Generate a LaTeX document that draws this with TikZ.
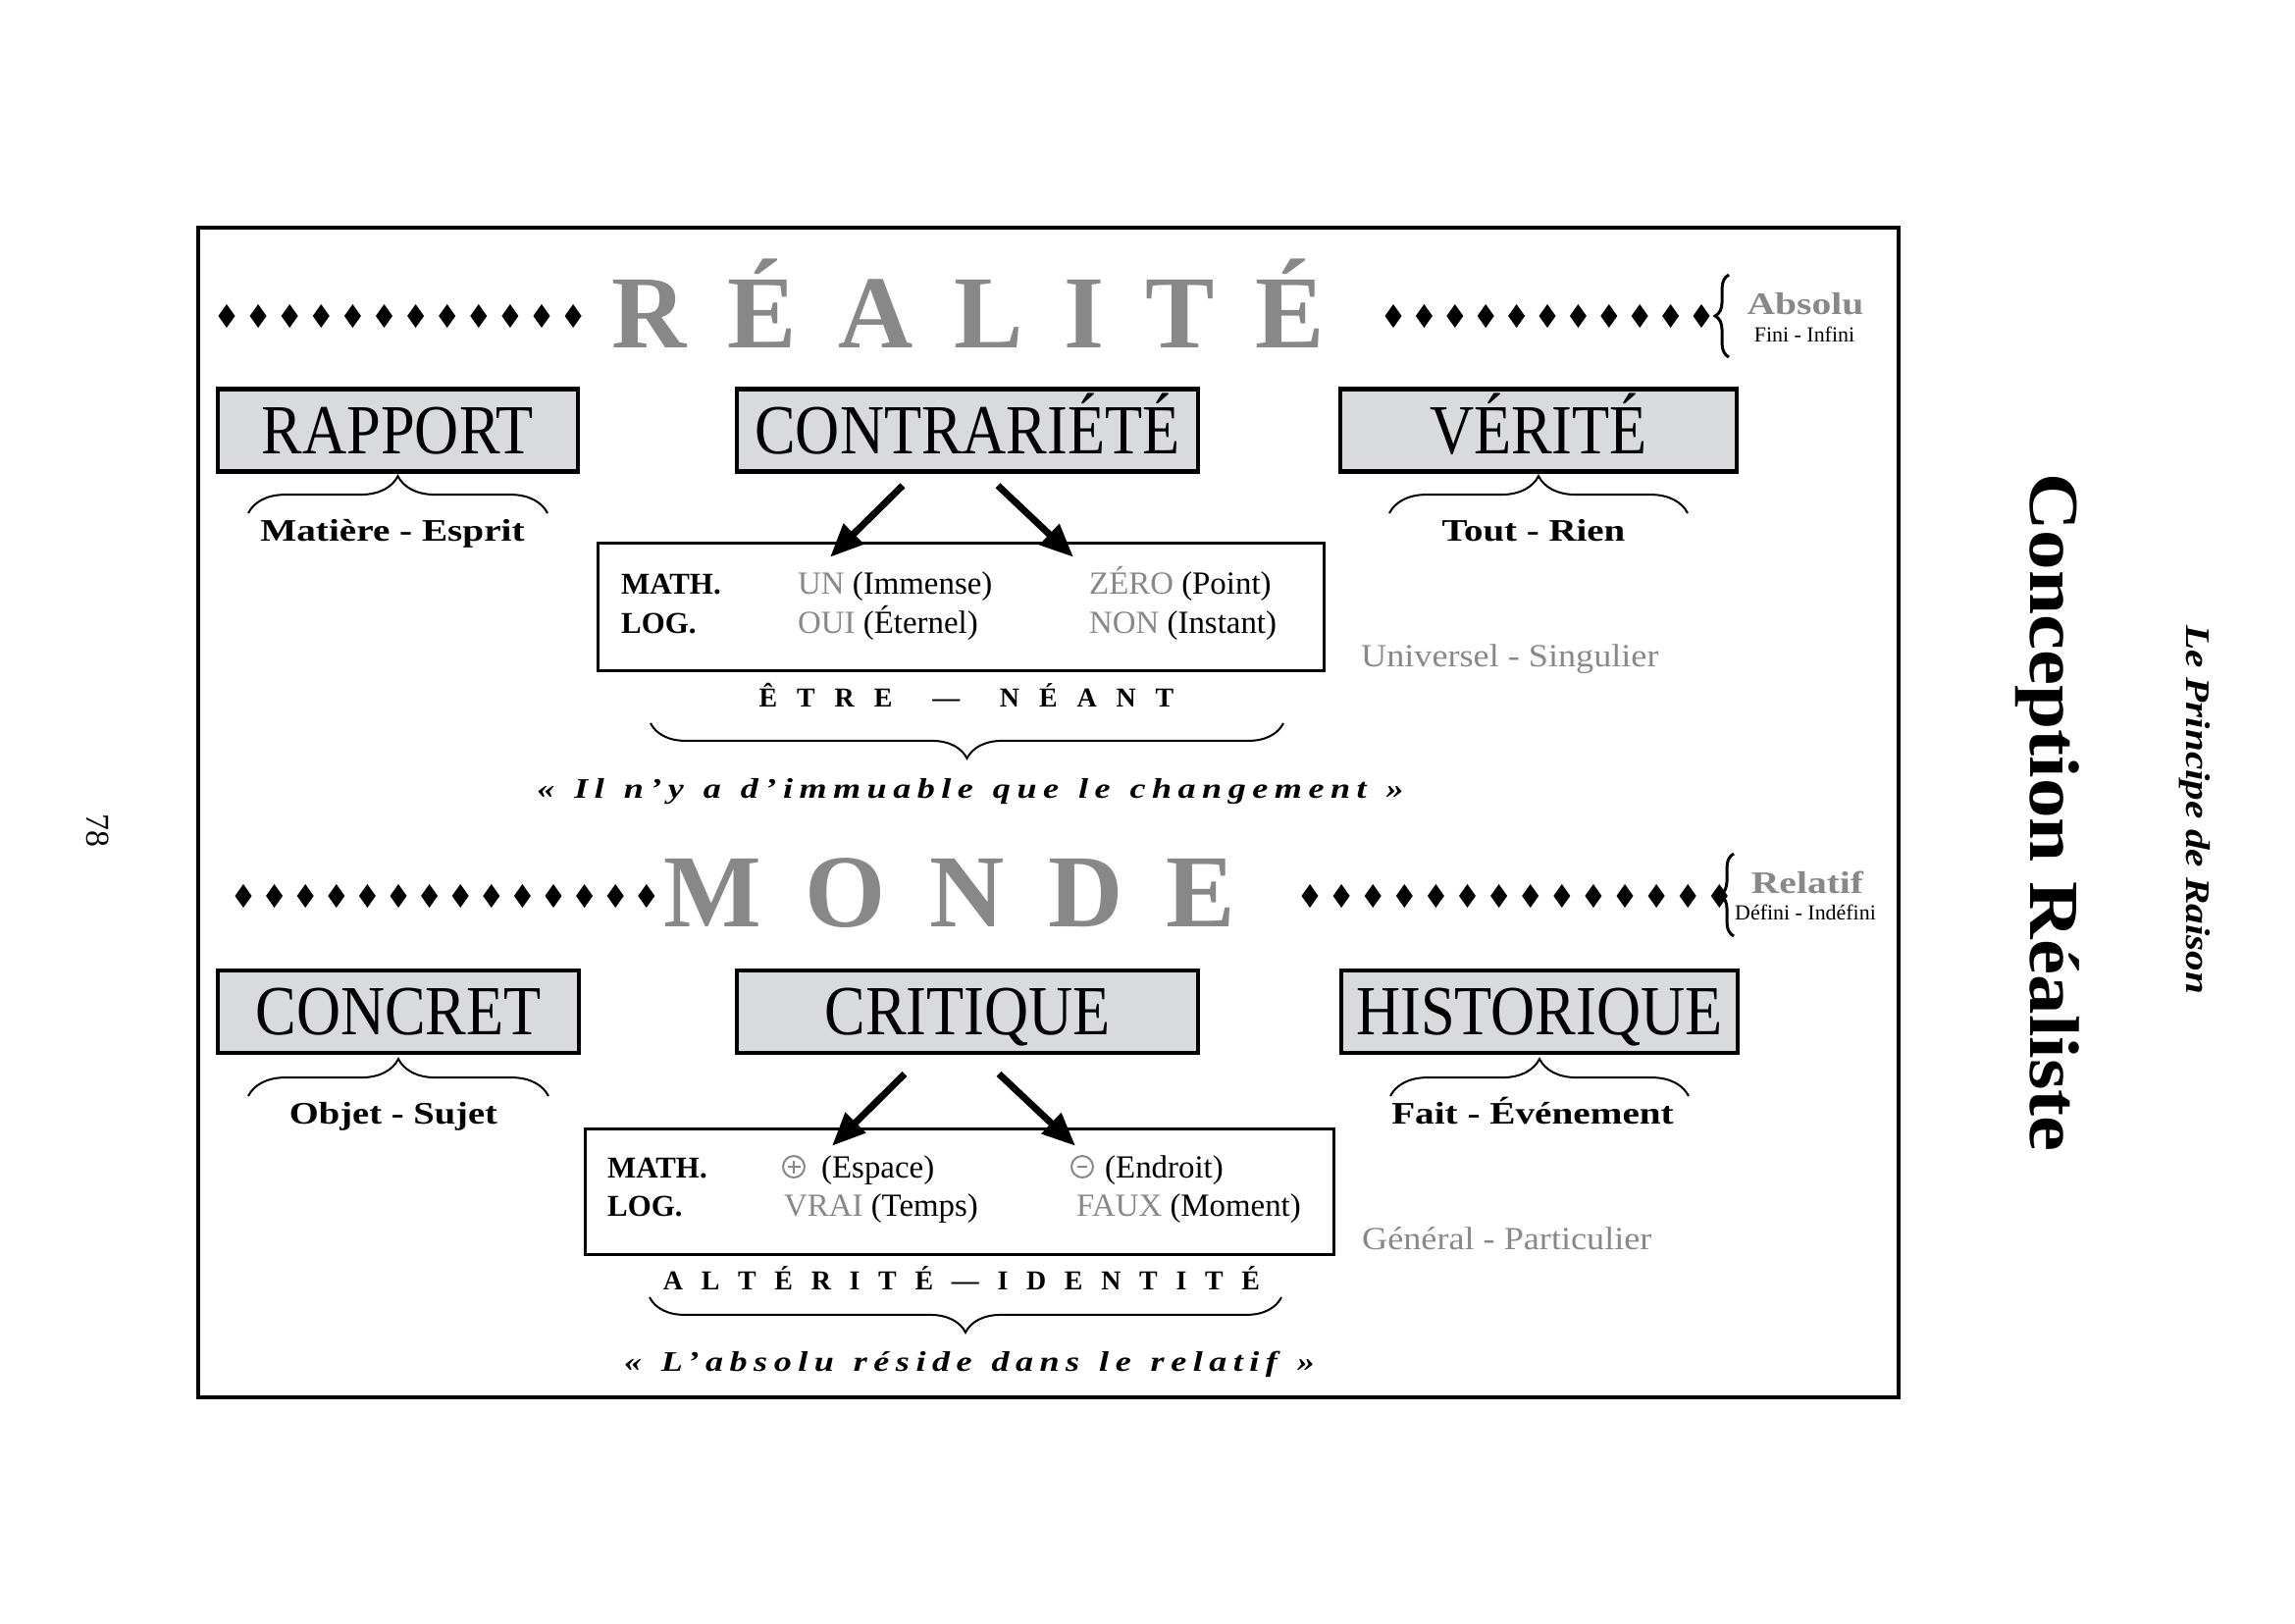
\documentclass[tikz,border=0pt]{standalone}
\usepackage{fontspec}
\usepackage{graphicx}
\setmainfont{Liberation Serif}
\usetikzlibrary{arrows.meta,decorations.pathreplacing,calc}
\definecolor{tgray}{HTML}{888888}
\definecolor{boxfill}{HTML}{D9DADC}
\newcommand\fsz[1]{\fontsize{#1pt}{#1pt}\selectfont}
\newcommand\diarow[4]{\foreach \i in {0,...,#3}{\pgfmathsetmacro\xx{#1+\i*#2}\fill (\xx,#4) +(0,-12) -- +(8.5,0) -- +(0,12) -- +(-8.5,0) -- cycle;}}
\newcommand\wide[2]{\scalebox{#1}[1]{#2}}
\begin{document}
\begin{tikzpicture}[x=1bp,y=-1bp,
  catbox/.style={draw=black,line width=4.5pt,fill=boxfill,inner sep=0pt,minimum height=84.5pt,text height=48pt,text depth=0pt,font=\fsz{72}},
  innerbox/.style={draw=black,line width=3pt,fill=white,inner sep=0pt},
  lbl/.style={anchor=base,inner sep=0pt},
  lblw/.style={anchor=base west,inner sep=0pt},
  txtin/.style={lblw,font=\fsz{33}},
  txthead/.style={lblw,font=\fsz{31}\bfseries},
  boldlbl/.style={lbl,font=\fsz{32}\bfseries},
  quote/.style={lbl,font=\fsz{29}\bfseries\itshape},
  ubrace/.style={decorate,decoration={brace,amplitude=38pt},line width=2pt},
  dbrace/.style={decorate,decoration={brace,amplitude=36pt},line width=2pt},
  lbrace/.style={decorate,decoration={brace,amplitude=14pt},line width=3pt},
  bigarrow/.style={line width=7pt,-{Triangle[length=34pt,width=28pt]}},
  sign/.style={circle,draw=tgray,line width=2pt,minimum size=22pt,inner sep=0pt},
]
\useasboundingbox (0,0) rectangle (2339,1654);
\draw[line width=4pt] (202,232) rectangle (1935,1424);

% diamond rows
\diarow{231}{32.1}{11}{322}
\diarow{1420}{31.4}{10}{322}
\diarow{248}{31.6}{13}{913}
\diarow{1335}{32.1}{13}{913}

% titles
\node[lbl,text=tgray,font=\fsz{106}\bfseries] (realite) at (987,354)
  {R\kern42pt É\kern42pt A\kern42pt L\kern42pt I\kern42pt T\kern42pt É};
\node[lbl,text=tgray,font=\fsz{106}\bfseries] (monde) at (968,944)
  {M\kern44.7pt O\kern44.7pt N\kern44.7pt D\kern44.7pt E};

% side labels
\draw[lbrace] (1762,364) -- (1762,280);
\node[lbl,text=tgray,font=\fsz{32}\bfseries] (absolu) at (1840,320) {\wide{1.24}{Absolu}};
\node[lbl,font=\fsz{22}] (fini) at (1839,348) {Fini - Infini};
\draw[lbrace] (1767,954) -- (1767,870);
\node[lbl,text=tgray,font=\fsz{32}\bfseries] (relatif) at (1842,910) {\wide{1.24}{Relatif}};
\node[lbl,font=\fsz{22}] (defini) at (1840,937) {Défini - Indéfini};

% category boxes
\node[catbox,minimum width=368.5pt] (rapport) at (405.5,438.5) {\wide{0.87}{RAPPORT}};
\node[catbox,minimum width=471.5pt] (contr) at (986,438.5) {\wide{0.87}{CONTRARIÉTÉ}};
\node[catbox,minimum width=405.5pt] (verite) at (1568,438.5) {\wide{0.87}{VÉRITÉ}};
\node[catbox,minimum width=369.5pt] (concret) at (406,1031) {\wide{0.87}{CONCRET}};
\node[catbox,minimum width=471.5pt] (critique) at (986,1031) {\wide{0.87}{CRITIQUE}};
\node[catbox,minimum width=405.5pt] (historique) at (1569,1031) {\wide{0.87}{HISTORIQUE}};

% braces under boxes
\draw[ubrace] (253,523) -- (558,523);
\draw[ubrace] (1416,523) -- (1720,523);
\draw[ubrace] (253,1117) -- (559,1117);
\draw[ubrace] (1417,1117) -- (1721,1117);
\node[boldlbl] (matiere) at (400,551) {\wide{1.23}{Matière - Esprit}};
\node[boldlbl] (tout) at (1563,551) {\wide{1.22}{Tout - Rien}};
\node[boldlbl] (objet) at (401,1145) {\wide{1.21}{Objet - Sujet}};
\node[boldlbl] (fait) at (1562,1145) {\wide{1.23}{Fait - Événement}};

% inner boxes
\node[innerbox,minimum width=742pt,minimum height=130pt] (inner1) at (979.5,618.5) {};
\node[innerbox,minimum width=765pt,minimum height=128pt] (inner2) at (978,1214.5) {};

% arrows
\draw[bigarrow] ($(contr.south)+(-66,12)$) -- ($(inner1.north)+(-133.5,15.5)$);
\draw[bigarrow] ($(contr.south)+(31,12)$) -- ($(inner1.north)+(114.5,15.5)$);
\draw[bigarrow] ($(critique.south)+(-64,19)$) -- ($(inner2.north)+(-130,18.5)$);
\draw[bigarrow] ($(critique.south)+(32,19)$) -- ($(inner2.north)+(118,18.5)$);

% inner box 1 texts
\node[txthead] (math1) at (633,605) {MATH.};
\node[txthead] (log1) at (633,645) {LOG.};
\node[txtin] (un) at (813,605) {\textcolor{tgray}{UN} (Immense)};
\node[txtin] (oui) at (813,645) {\textcolor{tgray}{OUI} (Éternel)};
\node[txtin] (zero) at (1110,605) {\textcolor{tgray}{ZÉRO} (Point)};
\node[txtin] (non) at (1110,645) {\textcolor{tgray}{NON} (Instant)};
\node[lblw,text=tgray,font=\fsz{33}] (univ) at (1387,679) {\wide{1.1}{Universel - Singulier}};
\node[lbl,font=\fsz{28}\bfseries] (etre) at (985,720)
  {Ê\kern20pt T\kern20pt R\kern20pt E\kern41pt —\kern41pt N\kern20pt É\kern20pt A\kern20pt N\kern20pt T};
\draw[dbrace] (1308,737) -- (663,737);
\node[quote] (quote1) at (989,813)
  {\wide{1.25}{\addfontfeature{LetterSpace=18}\spaceskip=16pt « Il n’y a d’immuable que le changement »}};

% inner box 2 texts
\node[txthead] (math2) at (619,1200) {MATH.};
\node[txthead] (log2) at (619,1239) {LOG.};
\node[sign] (plus) at (809,1189) {};
\draw[tgray,line width=2pt] ($(plus.center)+(-6.5,0)$) -- ($(plus.center)+(6.5,0)$)
  ($(plus.center)+(0,-6.5)$) -- ($(plus.center)+(0,6.5)$);
\node[txtin] (espace) at (837,1200) {(Espace)};
\node[sign] (minus) at (1103,1189) {};
\draw[tgray,line width=2pt] ($(minus.center)+(-5,0)$) -- ($(minus.center)+(5,0)$);
\node[txtin] (endroit) at (1126,1200) {(Endroit)};
\node[txtin] (vrai) at (799,1239) {\textcolor{tgray}{VRAI} (Temps)};
\node[txtin] (faux) at (1097,1239) {\textcolor{tgray}{FAUX} (Moment)};
\node[lblw,text=tgray,font=\fsz{33}] (general) at (1388,1273) {\wide{1.1}{Général - Particulier}};
\node[lbl,font=\fsz{28}\bfseries] (alterite) at (980,1314)
  {A\kern18.8pt L\kern18.8pt T\kern18.8pt É\kern18.8pt R\kern18.8pt I\kern18.8pt T\kern18.8pt É\kern18.8pt —\kern18.8pt I\kern18.8pt D\kern18.8pt E\kern18.8pt N\kern18.8pt T\kern18.8pt I\kern18.8pt T\kern18.8pt É};
\draw[dbrace] (1306,1322) -- (662,1322);
\node[quote] (quote2) at (988,1397)
  {\wide{1.25}{\addfontfeature{LetterSpace=18}\spaceskip=16pt « L’absolu réside dans le relatif »}};

% margin texts
\node[lbl,rotate=-90,font=\fsz{34}] (page) at (88,846) {78};
\node[lbl,rotate=-90,font=\fsz{72}\bfseries] (concept) at (2069,828) {\wide{1.13}{Conception Réaliste}};
\node[lbl,rotate=-90,font=\fsz{35}\bfseries\itshape] (principe) at (2228,825) {\wide{1.18}{Le Principe de Raison}};
\end{tikzpicture}
\end{document}
